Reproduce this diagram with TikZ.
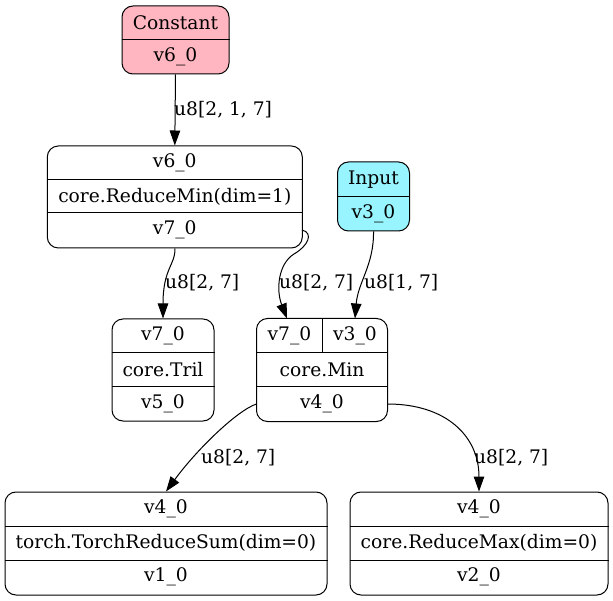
\documentclass[tikz,border=0pt]{standalone}
\usepackage{fontspec}
\setmainfont{DejaVu Serif}
\usetikzlibrary{arrows.meta}
\definecolor{constfill}{HTML}{FFB6C1}
\definecolor{inputfill}{HTML}{98F5FF}
\begin{document}
\begin{tikzpicture}[x=1pt,y=-1pt,
  every node/.style={font=\fontsize{18.67pt}{22pt}\selectfont},
  box/.style={draw=black, line width=1pt, rounded corners=11pt, inner sep=0pt},
  field/.style={inner sep=0pt, anchor=center},
  sep/.style={draw=black, line width=1pt},
  edge/.style={draw=black, line width=1pt, -{Triangle[length=15pt,width=10.5pt]}},
  elabel/.style={anchor=west, inner sep=0pt}]
\useasboundingbox (0,0) rectangle (613,601);

% Constant source
\node[box, fill=constfill, minimum width=107pt, minimum height=68pt] (const) at (175.5,40) {};
\draw[sep] (const.west |- 0,40) -- (const.east |- 0,40);
\node[field] (const-a) at (175.5,23) {Constant};
\node[field] (const-b) at (175.5,57) {v6\_0};

% ReduceMin
\node[box, minimum width=255pt, minimum height=102pt] (rmin) at (174.8,197) {};
\draw[sep] (rmin.west |- 0,179.5) -- (rmin.east |- 0,179.5);
\draw[sep] (rmin.west |- 0,213) -- (rmin.east |- 0,213);
\node[field] (rmin-a) at (174.8,163) {v6\_0};
\node[field] (rmin-b) at (174.8,196.5) {core.ReduceMin(dim=1)};
\node[field] (rmin-c) at (174.8,230) {v7\_0};

% Input source
\node[box, fill=inputfill, minimum width=72pt, minimum height=69pt] (inp) at (373.5,196.5) {};
\draw[sep] (inp.west |- 0,196.5) -- (inp.east |- 0,196.5);
\node[field] (inp-a) at (373.5,179.5) {Input};
\node[field] (inp-b) at (373.5,213.5) {v3\_0};

% Tril
\node[box, minimum width=102pt, minimum height=102pt] (tril) at (163,370) {};
\draw[sep] (tril.west |- 0,353) -- (tril.east |- 0,353);
\draw[sep] (tril.west |- 0,386.5) -- (tril.east |- 0,386.5);
\node[field] (tril-a) at (163,336) {v7\_0};
\node[field] (tril-b) at (163,370) {core.Tril};
\node[field] (tril-c) at (163,404) {v5\_0};

% Min
\node[box, minimum width=131pt, minimum height=103pt] (min) at (322,370) {};
\draw[sep] (min.west |- 0,352.5) -- (min.east |- 0,352.5);
\draw[sep] (min.west |- 0,387) -- (min.east |- 0,387);
\draw[sep] (322,318.5) -- (322,352.5);
\node[field] (min-a) at (289.5,336) {v7\_0};
\node[field] (min-b) at (355,336) {v3\_0};
\node[field] (min-c) at (322,370) {core.Min};
\node[field] (min-d) at (322,404) {v4\_0};

% TorchReduceSum
\node[box, minimum width=322pt, minimum height=103pt] (tsum) at (166,543.5) {};
\draw[sep] (tsum.west |- 0,526) -- (tsum.east |- 0,526);
\draw[sep] (tsum.west |- 0,560) -- (tsum.east |- 0,560);
\node[field] (tsum-a) at (166,509) {v4\_0};
\node[field] (tsum-b) at (166,543) {torch.TorchReduceSum(dim=0)};
\node[field] (tsum-c) at (166,577) {v1\_0};

% ReduceMax
\node[box, minimum width=258pt, minimum height=103pt] (rmax) at (479,543.5) {};
\draw[sep] (rmax.west |- 0,526) -- (rmax.east |- 0,526);
\draw[sep] (rmax.west |- 0,560) -- (rmax.east |- 0,560);
\node[field] (rmax-a) at (479,509) {v4\_0};
\node[field] (rmax-b) at (479,543) {core.ReduceMax(dim=0)};
\node[field] (rmax-c) at (479,577) {v2\_0};

% ports
\coordinate (rmin-out) at (302,230);
\coordinate (min-in-a) at (287,318.5);
\coordinate (min-in-b) at (355,318.5);
\coordinate (min-out-w) at (256.5,404);
\coordinate (min-out-e) at (387.5,404);

% connectors
\draw[edge] (const.south) -- (rmin.north);
\node[elabel] (l1) at (174,110) {u8[2, 1, 7]};

\draw[edge] (rmin.south) .. controls (176,264) and (163,268) .. (tril.north);
\node[elabel] (l2) at (165,283) {u8[2, 7]};

\draw[edge] (rmin-out) .. controls (314,233) and (308,246) .. (294,254)
  .. controls (278,264) and (276,290) .. (min-in-a);
\node[elabel] (l3) at (279,283) {u8[2, 7]};

\draw[edge] (inp.south) .. controls (374,265) and (358,282) .. (min-in-b);
\node[elabel] (l4) at (364,283) {u8[1, 7]};

\draw[edge] (min-out-w) .. controls (238,410) and (198,448) .. (tsum.north);
\node[elabel] (l5) at (201,458) {u8[2, 7]};

\draw[edge] (min-out-e) .. controls (446,404) and (479,436) .. (rmax.north);
\node[elabel] (l6) at (474,458) {u8[2, 7]};
\end{tikzpicture}
\end{document}
